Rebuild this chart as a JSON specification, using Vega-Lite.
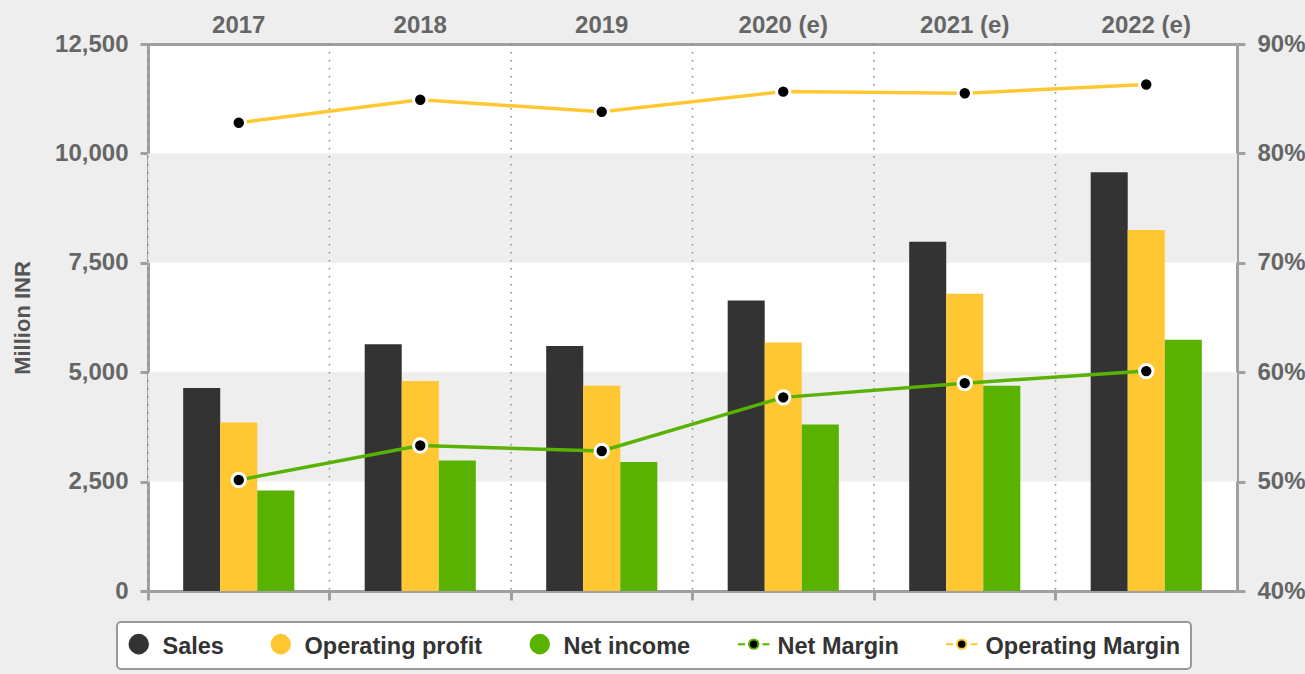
{
  "$schema": "https://vega.github.io/schema/vega-lite/v6.json",
  "width": 1089,
  "height": 547,
  "autosize": {"type": "none"},
  "padding": {"left": 148, "top": 44, "right": 68, "bottom": 83},
  "background": "#eeeeee",
  "config": {
    "view": {"fill": "#ffffff", "stroke": null},
    "font": "Liberation Sans",
    "axis": {
      "labelFont": "Liberation Sans",
      "labelFontWeight": "bold",
      "labelFontSize": 24,
      "labelColor": "#666666",
      "domainColor": "#a0a0a0",
      "domainWidth": 3,
      "tickColor": "#a0a0a0",
      "tickWidth": 3,
      "tickSize": 8,
      "grid": false,
      "zindex": 1
    }
  },
  "datasets": {
    "bands": [
      {"lo": 2500, "hi": 5000},
      {"lo": 7500, "hi": 10000}
    ],
    "bars": [
      {"year": "2017", "series": "Sales", "value": 4640},
      {"year": "2017", "series": "Operating profit", "value": 3850},
      {"year": "2017", "series": "Net income", "value": 2295},
      {"year": "2018", "series": "Sales", "value": 5640},
      {"year": "2018", "series": "Operating profit", "value": 4800},
      {"year": "2018", "series": "Net income", "value": 2980},
      {"year": "2019", "series": "Sales", "value": 5600},
      {"year": "2019", "series": "Operating profit", "value": 4690},
      {"year": "2019", "series": "Net income", "value": 2950},
      {"year": "2020 (e)", "series": "Sales", "value": 6640},
      {"year": "2020 (e)", "series": "Operating profit", "value": 5680},
      {"year": "2020 (e)", "series": "Net income", "value": 3805},
      {"year": "2021 (e)", "series": "Sales", "value": 7980},
      {"year": "2021 (e)", "series": "Operating profit", "value": 6790},
      {"year": "2021 (e)", "series": "Net income", "value": 4690},
      {"year": "2022 (e)", "series": "Sales", "value": 9570},
      {"year": "2022 (e)", "series": "Operating profit", "value": 8250},
      {"year": "2022 (e)", "series": "Net income", "value": 5740}
    ],
    "margins": [
      {"year": "2017", "series": "Net Margin", "margin": 50.15},
      {"year": "2018", "series": "Net Margin", "margin": 53.3},
      {"year": "2019", "series": "Net Margin", "margin": 52.8},
      {"year": "2020 (e)", "series": "Net Margin", "margin": 57.7},
      {"year": "2021 (e)", "series": "Net Margin", "margin": 59.0},
      {"year": "2022 (e)", "series": "Net Margin", "margin": 60.1},
      {"year": "2017", "series": "Operating Margin", "margin": 82.8},
      {"year": "2018", "series": "Operating Margin", "margin": 84.9},
      {"year": "2019", "series": "Operating Margin", "margin": 83.8},
      {"year": "2020 (e)", "series": "Operating Margin", "margin": 85.65},
      {"year": "2021 (e)", "series": "Operating Margin", "margin": 85.5},
      {"year": "2022 (e)", "series": "Operating Margin", "margin": 86.3}
    ]
  },
  "resolve": {"scale": {"y": "independent"}, "axis": {"x": "independent", "y": "independent"}},
  "layer": [
    {
      "data": {"name": "bands"},
      "mark": {"type": "rect", "fill": "#eeeeee"},
      "encoding": {
        "y": {"field": "lo", "type": "quantitative", "scale": {"domain": [0, 12500], "nice": false}, "axis": null},
        "y2": {"field": "hi"}
      }
    },
    {
      "data": {"name": "margins"},
      "transform": [{"filter": "datum.series === 'Net Margin'"}],
      "mark": {"type": "rule", "stroke": "#8c8c8c", "strokeWidth": 1.6, "strokeDash": [1.6, 6.4]},
      "encoding": {
        "x": {"field": "year", "type": "nominal", "sort": null, "bandPosition": 0, "axis": null,
              "scale": {"paddingInner": 0, "paddingOuter": 0}}
      }
    },
    {
      "data": {"name": "bars"},
      "mark": {"type": "bar"},
      "encoding": {
        "x": {"field": "year", "type": "nominal", "sort": null,
              "scale": {"paddingInner": 0, "paddingOuter": 0},
              "axis": {"orient": "top", "title": null, "ticks": false, "labelAngle": 0, "labelPadding": 7, "domain": true}},
        "xOffset": {"field": "series", "type": "nominal", "sort": ["Sales", "Operating profit", "Net income"],
                    "scale": {"paddingInner": 0, "paddingOuter": 0.95}},
        "y": {"field": "value", "type": "quantitative", "scale": {"domain": [0, 12500], "nice": false},
              "axis": {"orient": "left", "values": [0, 2500, 5000, 7500, 10000, 12500], "format": ",d",
                       "labelPadding": 12, "title": "Million INR", "titleFontSize": 22, "titleFontWeight": "bold",
                       "titleColor": "#555555", "titleFont": "Liberation Sans", "titleX": -114, "titleY": 273.5}},
        "color": {
          "field": "series", "type": "nominal",
          "scale": {
            "domain": ["Sales", "Operating profit", "Net income", "Net Margin", "Operating Margin"],
            "range": ["#333333", "#ffc832", "#5ab200", "#000000", "#000000"]
          },
          "legend": {
            "orient": "none", "legendX": -31, "legendY": 578, "direction": "horizontal", "columns": 5,
            "title": null, "labelFont": "Liberation Sans", "labelFontSize": 23.5, "labelFontWeight": "bold",
            "labelColor": "#333333", "labelLimit": 400, "symbolSize": 1000, "labelOffset": 12,
            "columnPadding": 42, "padding": 10, "fillColor": "#ffffff", "strokeColor": "#999999", "cornerRadius": 4,
            "encode": {
              "legend": {"update": {"strokeWidth": {"value": 2}}},
              "labels": {"update": {"dy": {"value": 3}}},
              "symbols": {"update": {
                "shape": {"signal": "(datum.value === 'Net Margin' || datum.value === 'Operating Margin') ? 'M-1,0L-0.55,0M0.55,0L1,0M-0.3,0A0.3,0.3,0,1,1,0.3,0A0.3,0.3,0,1,1,-0.3,0Z' : 'circle'"},
                "size": {"signal": "(datum.value === 'Net Margin' || datum.value === 'Operating Margin') ? 1000 : 420"},
                "fill": {"signal": "scale('color', datum.value)"},
                "stroke": {"signal": "(datum.value === 'Net Margin' || datum.value === 'Operating Margin') ? scale('stroke', datum.value) : 'transparent'"},
                "strokeWidth": {"value": 2},
                "opacity": {"value": 1},
                "fillOpacity": {"value": 1},
                "strokeOpacity": {"value": 1}
              }}
            }
          }
        }
      }
    },
    {
      "data": {"name": "margins"},
      "mark": {"type": "line", "strokeWidth": 3.5},
      "encoding": {
        "x": {"field": "year", "type": "nominal", "sort": null,
              "scale": {"paddingInner": 0, "paddingOuter": 0},
              "axis": {"orient": "bottom", "title": null, "labels": false, "ticks": true, "bandPosition": 0, "tickSize": 9}},
        "y": {"field": "margin", "type": "quantitative", "scale": {"domain": [40, 90], "nice": false},
              "axis": {"orient": "right", "values": [40, 50, 60, 70, 80, 90], "labelExpr": "datum.value + '%'",
                       "labelPadding": 12, "title": null}},
        "stroke": {"field": "series", "type": "nominal",
                   "scale": {"domain": ["Net Margin", "Operating Margin"], "range": ["#5ab200", "#ffc832"]},
                   "legend": null}
      }
    },
    {
      "data": {"name": "margins"},
      "mark": {"type": "point", "filled": true, "fill": "#000000", "stroke": "#ffffff", "strokeWidth": 3, "size": 180, "opacity": 1},
      "encoding": {
        "x": {"field": "year", "type": "nominal", "sort": null, "axis": null,
              "scale": {"paddingInner": 0, "paddingOuter": 0}},
        "y": {"field": "margin", "type": "quantitative", "scale": {"domain": [40, 90], "nice": false}, "axis": null}
      }
    }
  ]
}
